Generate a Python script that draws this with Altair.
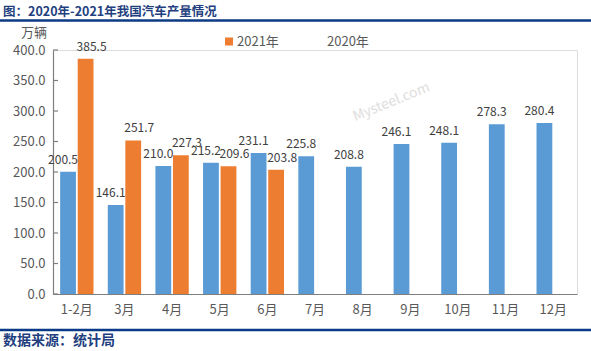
import altair as alt
import pandas as pd

months = ["1-2月", "3月", "4月", "5月", "6月", "7月", "8月", "9月", "10月", "11月", "12月"]
v2020 = [200.5, 146.1, 210.0, 215.2, 231.1, 225.8, 208.8, 246.1, 248.1, 278.3, 280.4]
v2021 = [385.5, 251.7, 227.3, 209.6, 203.8]
series_names = ["2020年", "2021年"]
y_ticks = [0, 50, 100, 150, 200, 250, 300, 350, 400]

title_text = "图：2020年-2021年我国汽车产量情况"
source_text = "数据来源：统计局"
unit_text = "万辆"

rows = []
for m, v in zip(months, v2020):
    rows.append({"month": m, "series": "2020年", "value": v})
for m, v in zip(months, v2021):
    rows.append({"month": m, "series": "2021年", "value": v})
df = pd.DataFrame(rows)

FONT = "Noto Sans CJK SC"
NAVY = "#0B3A86"
BLUE = "#5B9BD5"
ORANGE = "#ED7D31"

W, H = 524, 244

x_enc = alt.X("month:N", sort=months,
              scale=alt.Scale(paddingInner=0.3, paddingOuter=0.15),
              axis=alt.Axis(title=None, labelAngle=0, ticks=False, labelPadding=9,
                            labelFontSize=13, labelColor="#595959", labelFont=FONT,
                            domainColor="#7F7F7F", domainWidth=1.2))
xo_enc = alt.XOffset("series:N", scale=alt.Scale(domain=series_names, paddingInner=0.1))
y_axis = alt.Axis(title=None, values=y_ticks, format=".1f", ticks=False,
                  labelPadding=8, labelFontSize=13, labelColor="#595959",
                  labelFont=FONT, grid=False, domainColor="#7F7F7F",
                  domainWidth=1.2)
y_enc = alt.Y("value:Q", scale=alt.Scale(domain=[0, 400], nice=False), axis=y_axis)

base = alt.Chart(df)
bars = base.mark_bar().encode(
    x=x_enc, xOffset=xo_enc, y=y_enc,
    color=alt.Color("series:N", scale=alt.Scale(domain=series_names, range=[BLUE, ORANGE]),
                    legend=None),
)
labels20 = base.transform_filter(alt.datum.series == "2020年").mark_text(
    dy=-8, dx=-5, baseline="alphabetic", fontSize=12, font=FONT, color="#404040").encode(
    x=x_enc, xOffset=xo_enc, y=y_enc,
    text=alt.Text("value:Q", format=".1f"),
)
labels21 = base.transform_filter(alt.datum.series == "2021年").mark_text(
    dy=-8, dx=6, baseline="alphabetic", fontSize=12, font=FONT, color="#404040").encode(
    x=x_enc, xOffset=xo_enc, y=y_enc,
    text=alt.Text("value:Q", format=".1f"),
)

tick_df = pd.DataFrame({"value": y_ticks})
ticks = alt.Chart(tick_df).mark_rule(color="#7F7F7F", strokeWidth=1.2).encode(
    y=y_enc,
    x=alt.value(0), x2=alt.value(5),
)

one = pd.DataFrame({"a": [0]})

def txt(text, x, y, size=13, color="#595959", bold=False, align="left", angle=0, opacity=1.0):
    kw = dict(fontSize=size, font=FONT, color=color, align=align,
              baseline="alphabetic", fontWeight="bold" if bold else "normal",
              opacity=opacity)
    if angle:
        kw["angle"] = angle
    return alt.Chart(pd.DataFrame({"label": [text]})).mark_text(**kw).encode(
        x=alt.value(x), y=alt.value(y), text="label:N")

def hline(y, width=2.5):
    return alt.Chart(one).mark_rule(color=NAVY, strokeWidth=width).encode(
        x=alt.value(-53), x2=alt.value(538), y=alt.value(y))

title = txt(title_text, -50, -34, size=12.5, color="#1F3F7F", bold=True)
source = txt(source_text, -50, 294.5, size=14, color="#1F3F7F", bold=True)
unit = txt(unit_text, -19, -13, size=13, align="center")
leg_sq = alt.Chart(one).mark_square(size=64, color=ORANGE, opacity=1).encode(
    x=alt.value(176), y=alt.value(-8.5))
leg1 = txt("2021年", 184, -4.5, size=13)
leg2 = txt("2020年", 274, -4.5, size=13)
wm = txt("Mysteel.com", 340, 56, size=14, color="#C8C8C8", align="center", angle=338,
         opacity=0.6)

chart = alt.layer(
    wm, bars, labels20, labels21, ticks, title, hline(-29.5), hline(280), source, unit,
    leg_sq, leg1, leg2
).properties(
    width=W, height=H,
    autosize=alt.AutoSizeParams(type="none"),
    padding={"left": 53, "top": 50, "right": 14, "bottom": 57},
).configure_view(stroke=None).configure(background="white")

chart.save("out.html", embed_options={"renderer": "svg", "actions": False})
